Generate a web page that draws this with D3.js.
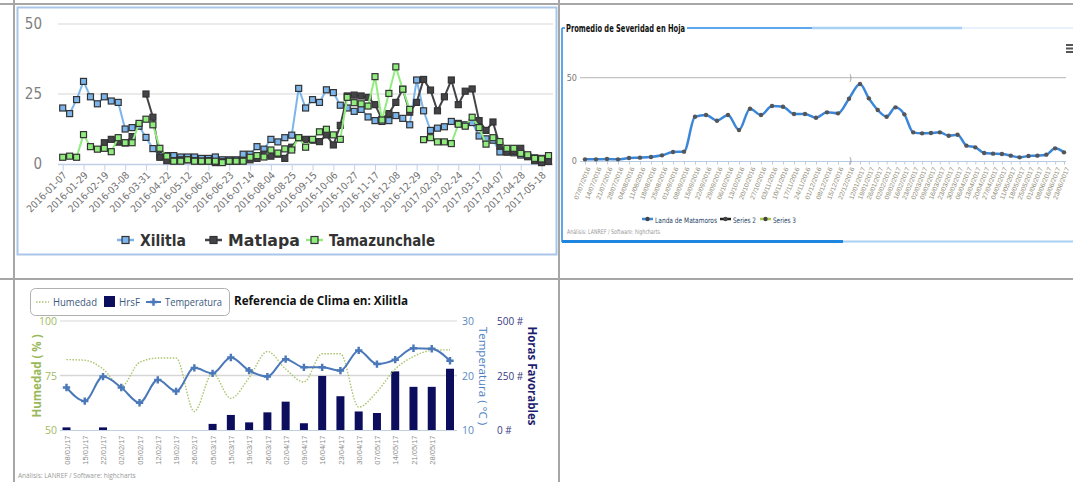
<!DOCTYPE html>
<html>
<head>
<meta charset="utf-8">
<script src="https://cdn.jsdelivr.net/npm/d3@7"></script>
<style>
body { margin: 0; background: #fff; }
svg { display: block; font-family: "DejaVu Sans Condensed", "DejaVu Sans", sans-serif; }
</style>
</head>
<body>
<script>
// ---------- chart 1 : Xilitla / Matlapa / Tamazunchale ----------
var sevTicks = ["2016-01-07","2016-01-29","2016-02-19","2016-03-08","2016-03-31","2016-04-22","2016-05-12","2016-06-02",
	"2016-06-23","2016-07-14","2016-08-04","2016-08-25","2016-09-15","2016-10-06","2016-10-27","2016-11-17",
	"2016-12-08","2016-12-29","2017-02-03","2017-02-24","2017-03-17","2017-04-07","2017-04-28","2017-05-18"];
var xilitla = [20,18,23,29.5,24,21.5,24,22.5,22,12.5,13,13.5,9.5,5.5,3,3,3,2.5,2.5,2.5,2,2,2.5,1.5,1.5,1.5,3.5,3.5,6.2,5.3,
	8.8,7.9,9.4,10.3,27,20,23,22,26.5,25.5,21,20,18.8,19.5,16.8,15.5,15.2,15.5,17.3,16.3,14,30,19,12,12.8,13.3,15.2,14.5,14,14.8,
	10,9,8.5,4.3,4.5,4,3.2,2.6,2.2,2,null];
var matlapa = [null,null,null,null,null,null,7.6,8.8,7.8,7.5,9.8,null,25,16.7,2.4,1.2,1.2,1.5,1.5,1.2,1,1.2,0.5,0.8,1,1,1.2,1.5,2,3.5,
	2.8,3.5,2,6,9.4,8.8,8.5,8,10.4,6.8,13.8,24.3,24.6,24.3,23.8,21.2,16,18,22,26.7,18.5,22,30.2,26.4,19,24,30,21.2,26,26.8,
	15.5,12,15,6.4,4.2,4.5,5.6,2.7,1.2,0.5,0.9];
var tamazunchale = [2.4,2.8,2.4,10.5,6.2,5.3,5.6,4.4,9.4,7.6,7.6,14.5,16,14,5.6,2.8,1,1,1.5,1,1,1,1,0.5,1,1,1,2.4,3,2.5,
	5,3.9,5.4,5,9.4,6,8.8,11.5,12.4,10.4,8.8,23.8,21.9,21.5,20.7,31.2,15.7,25.2,34.7,26.7,19.5,null,8.7,9.4,7.9,7.9,7.3,14.2,13.5,16.7,
	13,7.1,9.4,8,5.6,5.6,3.8,3.3,2,1.8,3];

// ---------- chart 2 : Promedio de Severidad en Hoja ----------
var hojaDates = ["07/07/2016","14/07/2016","21/07/2016","28/07/2016","04/08/2016","11/08/2016","18/08/2016","25/08/2016",
	"01/09/2016","08/09/2016","15/09/2016","22/09/2016","29/09/2016","06/10/2016","13/10/2016","20/10/2016","27/10/2016",
	"03/11/2016","10/11/2016","17/11/2016","24/11/2016","01/12/2016","08/12/2016","15/12/2016","22/12/2016",
	"12/01/2017","19/01/2017","26/01/2017","02/02/2017","09/02/2017","16/02/2017","23/02/2017","02/03/2017","09/03/2017",
	"16/03/2017","23/03/2017","30/03/2017","06/04/2017","13/04/2017","20/04/2017","27/04/2017","04/05/2017","11/05/2017",
	"18/05/2017","25/05/2017","01/06/2017","08/06/2017","16/06/2017","23/06/2017"];
var landa = [1,1,1.2,1,1.8,2,2.4,3.4,5.4,5.6,26.6,27.6,24.2,27.6,18.6,31.4,27.6,33,32.6,28.2,28.2,26,29.2,28.6,37.4,
	46.2,37.6,30.6,26.6,32.2,28,17.2,16.6,16.8,17.2,15.2,15.8,9.2,8.2,4.8,4.4,4.2,3.2,2.2,3,3.2,3.8,7.6,5.2];

// ---------- chart 3 : Referencia de Clima en: Xilitla ----------
var climaDates = ["08/01/17","15/01/17","22/01/17","02/02/17","05/02/17","12/02/17","19/02/17","26/02/17","05/03/17","15/03/17",
	"19/03/17","26/03/17","02/04/17","09/04/17","16/04/17","23/04/17","30/04/17","07/05/17","14/05/17","21/05/17","28/05/17"];
var humedad = [82.3,82,78,70,81,83,83,58.5,76,64.5,74,86,78,72,85,85,60.5,67.5,78,83.7,86.5,86.8];
var horasF = [12,0,12,0,0,0,0,0,28,69,35,81,130,31,248,155,85,78,269,198,198,281];
var temperatura = [17.8,15.3,19.8,17.8,15,19.2,17.1,21.4,20.4,23.3,20.9,19.8,23,21.5,21.5,20.9,24.6,22.1,22.9,25,24.9,22.7];

var W = 1073, H = 482;
var svg = d3.select("body").append("svg").attr("width", W).attr("height", H);
svg.append("rect").attr("width", W).attr("height", H).attr("fill", "#fff");

// table grid
var gridCol = "#a6a6a6";
[[0, 4, W, 4], [0, 279, W, 279], [14, 0, 14, H], [559, 0, 559, H]].forEach(function(l) {
	svg.append("line").attr("x1", l[0]).attr("y1", l[1]).attr("x2", l[2]).attr("y2", l[3])
		.attr("stroke", gridCol).attr("stroke-width", 2);
});

// ================= chart 1 =================
var g1 = svg.append("g");
g1.append("rect").attr("x", 17.5).attr("y", 7.5).attr("width", 539).attr("height", 247)
	.attr("fill", "none").attr("stroke", "#a9c5e8").attr("stroke-width", 2);

var x1 = d3.scaleLinear().domain([0, 70]).range([62.7, 548.5]);
var y1 = d3.scaleLinear().domain([0, 50]).range([164, 24]);

g1.selectAll(".grid1").data([25, 50]).enter().append("line")
	.attr("x1", 58).attr("x2", 553).attr("y1", y1).attr("y2", y1)
	.attr("stroke", "#e3e3e3").attr("stroke-width", 1.5);

g1.selectAll(".ylab1").data([0, 25, 50]).enter().append("text")
	.attr("x", 42).attr("y", function(d) { return y1(d) + 5; })
	.attr("text-anchor", "end").attr("font-size", 15).attr("fill", "#808080")
	.text(function(d) { return d; });

g1.append("line").attr("x1", 58).attr("x2", 553).attr("y1", 164.5).attr("y2", 164.5)
	.attr("stroke", "#c0d0e8").attr("stroke-width", 1.5);

var ax1 = g1.append("g").attr("transform", "translate(0,164.5)")
	.call(d3.axisBottom(x1).tickValues(d3.range(0, 70, 3)).tickSize(6).tickSizeOuter(0)
		.tickFormat(function(d) { return sevTicks[d / 3]; }));
ax1.select(".domain").remove();
ax1.selectAll(".tick line").attr("stroke", "#c0d0e8");
ax1.selectAll(".tick text")
	.attr("x", 0).attr("y", 0).attr("dy", "0.35em")
	.attr("transform", "translate(2,9) rotate(-45)")
	.attr("text-anchor", "end").attr("font-size", 10).attr("fill", "#707070")
	.attr("font-family", "DejaVu Sans Condensed");

var series1 = [
	{name: "Xilitla", data: xilitla, color: "#7cb5ec"},
	{name: "Matlapa", data: matlapa, color: "#434348"},
	{name: "Tamazunchale", data: tamazunchale, color: "#90ed7d"}
];

var line1 = d3.line()
	.defined(function(d) { return d != null; })
	.x(function(d, i) { return x1(i); })
	.y(function(d) { return y1(d); });

series1.forEach(function(s) {
	var sg = g1.append("g");
	sg.append("path").attr("d", line1(s.data)).attr("fill", "none")
		.attr("stroke", s.color).attr("stroke-width", 2);
	sg.selectAll("rect").data(s.data.map(function(v, i) { return {v: v, i: i}; })
		.filter(function(d) { return d.v != null; }))
		.enter().append("rect")
		.attr("x", function(d) { return x1(d.i) - 3; })
		.attr("y", function(d) { return y1(d.v) - 3; })
		.attr("width", 6).attr("height", 6)
		.attr("fill", s.color).attr("stroke", "#333").attr("stroke-width", 1.2);
});

// legend chart 1
var leg1 = [{x: 117, w: 46}, {x: 205, w: 72}, {x: 306, w: 106}];
series1.forEach(function(s, i) {
	var lg = g1.append("g").attr("transform", "translate(" + leg1[i].x + ",240)");
	lg.append("line").attr("x1", 0).attr("x2", 17).attr("stroke", s.color).attr("stroke-width", 2.5);
	lg.append("rect").attr("x", 5).attr("y", -3.5).attr("width", 7).attr("height", 7)
		.attr("fill", s.color).attr("stroke", "#333").attr("stroke-width", 1.2);
	lg.append("text").attr("x", 23).attr("y", 6).attr("font-size", 15.5).attr("font-weight", "bold")
		.attr("fill", "#333").attr("textLength", leg1[i].w).attr("lengthAdjust", "spacingAndGlyphs")
		.text(s.name);
});

// ================= chart 2 =================
var g2 = svg.append("g");
var blue = "#2a8ae6";
g2.append("line").attr("x1", 562).attr("x2", 565).attr("y1", 28).attr("y2", 28).attr("stroke", blue).attr("stroke-width", 1.5);
g2.append("line").attr("x1", 687).attr("x2", 812).attr("y1", 28).attr("y2", 28).attr("stroke", blue).attr("stroke-width", 1.5);
g2.append("line").attr("x1", 812).attr("x2", 962).attr("y1", 28).attr("y2", 28).attr("stroke", "#a8d0f4").attr("stroke-width", 2.5);
g2.append("line").attr("x1", 962).attr("x2", 1073).attr("y1", 28).attr("y2", 28).attr("stroke", "#cfe4f8").attr("stroke-width", 1);
g2.append("line").attr("x1", 562).attr("x2", 562).attr("y1", 28).attr("y2", 242).attr("stroke", blue).attr("stroke-width", 1.5);
g2.append("line").attr("x1", 562).attr("x2", 843).attr("y1", 241.5).attr("y2", 241.5).attr("stroke", "#1f86e0").attr("stroke-width", 3);
g2.append("line").attr("x1", 843).attr("x2", 1073).attr("y1", 241.5).attr("y2", 241.5).attr("stroke", "#a8d0f4").attr("stroke-width", 2);

g2.append("text").attr("x", 566).attr("y", 32).attr("font-size", 10).attr("font-weight", "bold")
	.attr("fill", "#111").attr("textLength", 119).attr("lengthAdjust", "spacingAndGlyphs")
	.text("Promedio de Severidad en Hoja");

// menu icon
[44, 47.5, 51].forEach(function(y) {
	g2.append("rect").attr("x", 1066).attr("y", y).attr("width", 8).attr("height", 2).attr("fill", "#555");
});

var x2 = d3.scaleLinear().domain([0, 24, 25, 48]).range([585, 849, 860, 1064]);
var y2 = d3.scaleLinear().domain([0, 50]).range([161, 77.7]);

g2.append("line").attr("x1", 580).attr("x2", 1066).attr("y1", y2(50)).attr("y2", y2(50))
	.attr("stroke", "#c4c4c4").attr("stroke-width", 1.2);
g2.append("line").attr("x1", 580).attr("x2", 1066).attr("y1", 161.5).attr("y2", 161.5)
	.attr("stroke", "#b8cce4").attr("stroke-width", 1);
g2.selectAll(".ylab2").data([0, 50]).enter().append("text")
	.attr("x", 577).attr("y", function(d) { return y2(d) + 3; })
	.attr("text-anchor", "end").attr("font-size", 9).attr("fill", "#777")
	.text(function(d) { return d; });
g2.selectAll(".brk").data([78, 161]).enter().append("text")
	.attr("x", 849).attr("y", function(d) { return d + 3; })
	.attr("font-size", 8).attr("fill", "#888").text(")");

var ax2 = g2.append("g").attr("transform", "translate(0,161.5)")
	.call(d3.axisBottom(x2).tickValues(d3.range(0, 49)).tickSize(3).tickSizeOuter(0)
		.tickFormat(function(d) { return hojaDates[d]; }));
ax2.select(".domain").remove();
ax2.selectAll(".tick line").attr("stroke", "#b8cce4");
ax2.selectAll(".tick text")
	.attr("x", 0).attr("y", 0).attr("dy", "0.35em")
	.attr("transform", "translate(3,6) rotate(-68)")
	.attr("text-anchor", "end").attr("font-size", 6.5).attr("fill", "#8e8a74")
	.attr("textLength", 34).attr("lengthAdjust", "spacingAndGlyphs");

var line2 = d3.line().curve(d3.curveMonotoneX)
	.x(function(d, i) { return x2(i); })
	.y(function(d) { return y2(d); });
g2.append("path").attr("d", line2(landa)).attr("fill", "none")
	.attr("stroke", "#3a86d8").attr("stroke-width", 2.5);
g2.selectAll(".pt2").data(landa).enter().append("circle")
	.attr("cx", function(d, i) { return x2(i); }).attr("cy", function(d) { return y2(d); })
	.attr("r", 2.2).attr("fill", "#555");

// legend chart 2
var leg2 = [
	{name: "Landa de Matamoros", color: "#3a86d8", x: 642, w: 62},
	{name: "Series 2", color: "#222", x: 720, w: 23},
	{name: "Series 3", color: "#a6c94a", x: 760, w: 23}
];
leg2.forEach(function(s) {
	var lg = g2.append("g").attr("transform", "translate(" + s.x + ",219)");
	lg.append("line").attr("x1", 0).attr("x2", 11).attr("stroke", s.color).attr("stroke-width", 2.5);
	lg.append("circle").attr("cx", 5.5).attr("r", 2.2).attr("fill", "#444");
	lg.append("text").attr("x", 13).attr("y", 3.5).attr("font-size", 7.5).attr("fill", "#1f3f66")
		.attr("textLength", s.w).attr("lengthAdjust", "spacingAndGlyphs").text(s.name);
});
g2.append("text").attr("x", 567).attr("y", 234).attr("font-size", 6.5).attr("fill", "#999")
	.attr("textLength", 93).attr("lengthAdjust", "spacingAndGlyphs")
	.text("Análisis: LANREF / Software: highcharts");

// ================= chart 3 =================
var g3 = svg.append("g").attr("font-family", "'Open Sans', 'DejaVu Sans', sans-serif");
var x3 = d3.scalePoint().domain(d3.range(humedad.length)).range([66.5, 450]);
var yHum = d3.scaleLinear().domain([50, 100]).range([430, 321]);
var yTem = d3.scaleLinear().domain([10, 30]).range([430, 321]);
var yHrs = d3.scaleLinear().domain([0, 500]).range([430, 321]);

g3.selectAll(".grid3").data([100, 75]).enter().append("line")
	.attr("x1", 60).attr("x2", 457).attr("y1", yHum).attr("y2", yHum)
	.attr("stroke", function(d) { return d == 75 ? "#d6d6d6" : "#e4e4e4"; }).attr("stroke-width", 1.5);
g3.append("line").attr("x1", 60).attr("x2", 457).attr("y1", 430.5).attr("y2", 430.5)
	.attr("stroke", "#c0d0e0").attr("stroke-width", 1);

// axes labels
g3.selectAll(".yh").data([50, 75, 100]).enter().append("text")
	.attr("x", 57).attr("y", function(d) { return yHum(d) + 4; }).attr("text-anchor", "end")
	.attr("font-size", 10.5).attr("fill", "#a0bb62").text(function(d) { return d; });
g3.selectAll(".yt").data([10, 20, 30]).enter().append("text")
	.attr("x", 462).attr("y", function(d) { return yTem(d) + 4; })
	.attr("font-size", 10.5).attr("fill", "#5d8ac0").text(function(d) { return d; });
g3.selectAll(".yr").data([0, 250, 500]).enter().append("text")
	.attr("x", 497).attr("y", function(d) { return yHrs(d) + 4; })
	.attr("font-size", 10).attr("fill", "#3a3a80").text(function(d) { return d + " #"; });

g3.append("text").attr("transform", "translate(41,376) rotate(-90)").attr("text-anchor", "middle")
	.attr("font-size", 11.5).attr("font-weight", "bold").attr("fill", "#9ab85a").text("Humedad ( % )");
g3.append("text").attr("transform", "translate(479,376) rotate(90)").attr("text-anchor", "middle")
	.attr("font-size", 11.5).attr("fill", "#4d7dbf").text("Temperatura ( °C )");
g3.append("text").attr("transform", "translate(528,376) rotate(90)").attr("text-anchor", "middle")
	.attr("font-size", 11.5).attr("font-weight", "bold").attr("fill", "#1d1d6e").text("Horas Favorables");

var ax3 = g3.append("g").attr("transform", "translate(0,430.5)")
	.call(d3.axisBottom(x3).tickSize(0).tickFormat(function(d) { return climaDates[d] || ""; }));
ax3.select(".domain").remove();
ax3.selectAll(".tick text")
	.attr("x", 0).attr("y", 0).attr("dy", "0.35em")
	.attr("transform", "translate(0,5) rotate(-90)")
	.attr("text-anchor", "end").attr("font-size", 7.5).attr("fill", "#8c8c8c");

// bars
g3.selectAll(".bar").data(horasF).enter().append("rect")
	.attr("x", function(d, i) { return x3(i) - 4; })
	.attr("y", function(d) { return yHrs(d); })
	.attr("width", 8).attr("height", function(d) { return 430 - yHrs(d); })
	.attr("fill", "#0d0d5e");

var humLine = d3.line().curve(d3.curveMonotoneX)
	.x(function(d, i) { return x3(i); }).y(function(d) { return yHum(d); });
g3.append("path").attr("d", humLine(humedad)).attr("fill", "none")
	.attr("stroke", "#a9c46c").attr("stroke-width", 1.4).attr("stroke-dasharray", "1.5,1.5");

var temLine = d3.line().curve(d3.curveMonotoneX)
	.x(function(d, i) { return x3(i); }).y(function(d) { return yTem(d); });
g3.append("path").attr("d", temLine(temperatura)).attr("fill", "none")
	.attr("stroke", "#4a78b8").attr("stroke-width", 2);
g3.selectAll(".tm").data(temperatura).enter().append("path")
	.attr("d", d3.symbol().type(d3.symbolCross).size(30))
	.attr("transform", function(d, i) { return "translate(" + x3(i) + "," + yTem(d) + ")"; })
	.attr("fill", "#4a78b8");

// legend chart 3
g3.append("rect").attr("x", 30.5).attr("y", 288.5).attr("width", 199).attr("height", 27).attr("rx", 5)
	.attr("fill", "#fff").attr("stroke", "#b0b0b0");
g3.append("line").attr("x1", 36).attr("x2", 49).attr("y1", 302).attr("y2", 302)
	.attr("stroke", "#a9c46c").attr("stroke-width", 1.5).attr("stroke-dasharray", "1.5,1.5");
g3.append("text").attr("x", 53).attr("y", 306).attr("font-size", 10.5).attr("fill", "#3b5a7e")
	.attr("textLength", 44).attr("lengthAdjust", "spacingAndGlyphs").text("Humedad");
g3.append("rect").attr("x", 104).attr("y", 296).attr("width", 11).attr("height", 11).attr("fill", "#0d0d5e");
g3.append("text").attr("x", 119).attr("y", 306).attr("font-size", 10.5).attr("fill", "#3b5a7e")
	.attr("textLength", 21).attr("lengthAdjust", "spacingAndGlyphs").text("HrsF");
g3.append("line").attr("x1", 146).attr("x2", 161).attr("y1", 302).attr("y2", 302)
	.attr("stroke", "#4a78b8").attr("stroke-width", 2);
g3.append("path").attr("d", d3.symbol().type(d3.symbolCross).size(30))
	.attr("transform", "translate(153.5,302)").attr("fill", "#4a78b8");
g3.append("text").attr("x", 165).attr("y", 306).attr("font-size", 10.5).attr("fill", "#3b5a7e")
	.attr("textLength", 57).attr("lengthAdjust", "spacingAndGlyphs").text("Temperatura");

g3.append("text").attr("x", 234).attr("y", 305).attr("font-size", 12.5).attr("font-weight", "bold")
	.attr("fill", "#111").attr("textLength", 174).attr("lengthAdjust", "spacingAndGlyphs")
	.text("Referencia de Clima en: Xilitla");

g3.append("text").attr("x", 18).attr("y", 478).attr("font-size", 6.5).attr("fill", "#999")
	.text("Análisis: LANREF / Software: highcharts");
</script>
</body>
</html>
